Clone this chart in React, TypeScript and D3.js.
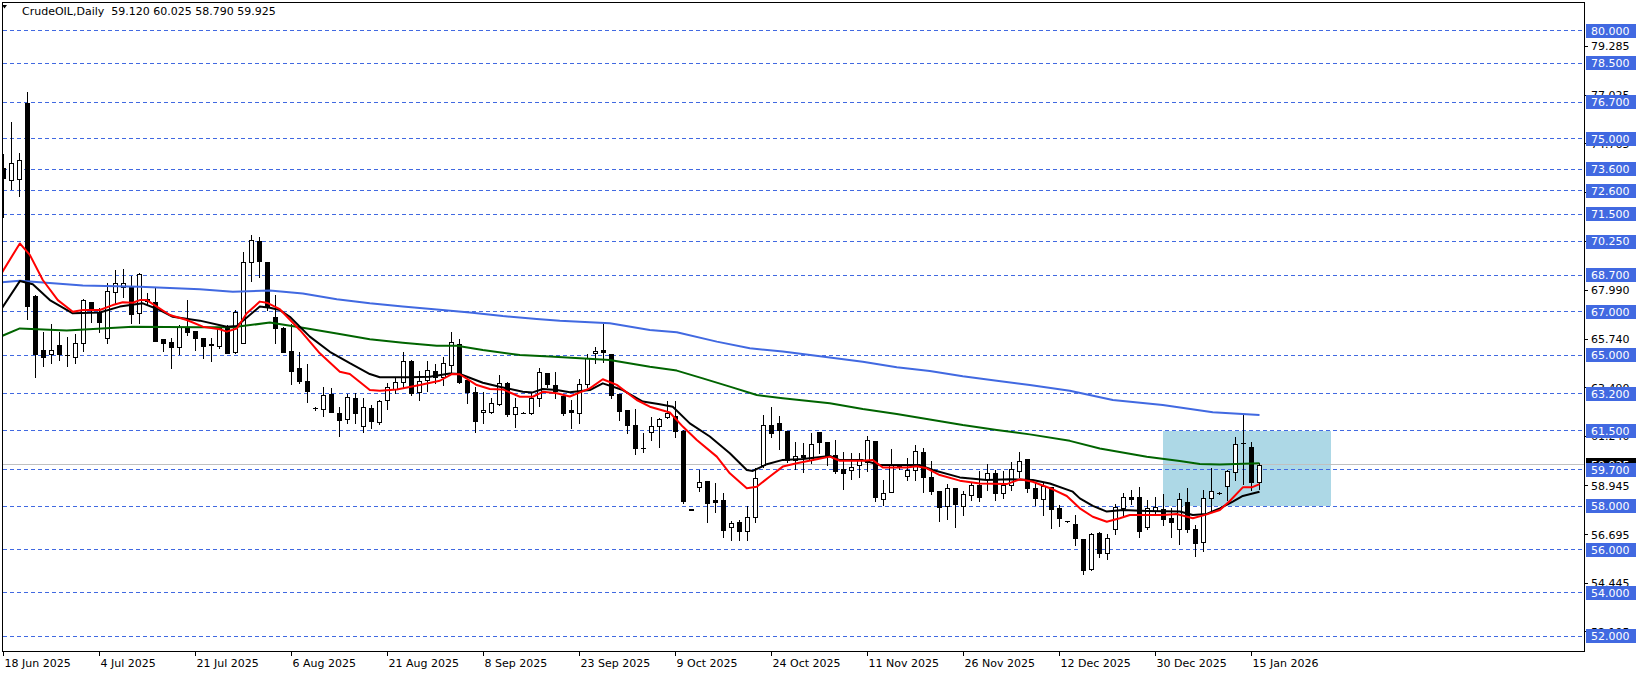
import React from 'react';
import * as d3 from 'd3';

const opens = [73.63,73.09,73.16,76.67,67.73,65.23,65.03,65.46,65.02,64.92,65.54,67.44,66.97,65.77,67.90,68.13,68.16,66.93,67.60,67.47,
65.74,65.59,65.39,66.23,66.11,65.77,65.50,65.43,66.36,65.15,65.54,69.29,70.27,69.29,66.77,66.27,65.19,64.40,63.80,62.55,
62.49,63.20,62.30,62.02,63.00,61.73,62.53,61.92,62.92,63.43,63.77,64.72,63.31,63.84,64.26,64.00,64.54,65.49,63.84,63.27,
62.35,62.38,62.72,63.69,62.27,62.33,62.30,63.00,64.15,63.61,63.11,62.46,62.30,63.65,65.08,65.23,65.03,63.18,62.46,61.77,
60.70,61.43,61.73,62.15,62.20,61.50,57.87,58.91,59.18,58.30,58.30,57.03,57.26,56.88,57.53,59.92,61.77,61.87,61.49,60.15,
60.38,60.15,61.43,61.00,60.37,59.73,59.68,59.91,60.03,61.02,58.32,58.68,59.88,59.40,59.68,60.50,59.34,58.71,58.03,58.83,
58.03,58.52,58.99,59.26,59.53,58.60,58.99,59.63,60.17,58.83,58.32,58.88,57.91,57.32,57.17,56.49,55.10,56.75,55.83,56.94,
57.91,58.42,58.42,57.03,57.79,57.86,57.45,56.94,58.19,56.94,56.34,58.37,58.60,58.96,59.57,60.92,60.76,59.12];
const highs = [74.30,75.76,74.33,77.15,67.78,66.05,66.42,66.08,65.82,65.96,67.59,67.46,67.16,68.35,68.93,68.96,68.65,68.81,67.85,68.16,
65.76,65.77,66.39,67.54,66.12,65.78,65.80,66.23,66.37,67.08,69.75,70.55,70.47,69.30,67.78,66.30,66.42,65.12,64.58,62.60,
63.51,63.46,62.58,63.20,63.23,63.00,62.69,62.92,63.69,63.92,65.12,64.75,64.26,64.72,64.58,64.89,66.05,65.74,63.85,63.51,
63.31,63.00,64.08,63.74,63.00,62.36,63.31,64.38,64.16,64.20,63.11,62.92,63.88,65.03,65.39,66.42,65.04,63.19,62.47,62.51,
61.38,62.15,62.11,62.88,62.88,61.51,57.88,59.68,59.18,59.07,58.61,57.33,57.37,58.04,59.79,62.23,62.58,62.18,61.49,61.00,
60.95,61.41,61.43,61.00,61.07,60.53,60.45,60.45,61.27,61.03,59.22,60.64,59.95,60.25,60.84,60.68,60.10,58.72,59.02,58.84,
58.71,59.14,59.63,59.96,59.68,59.63,60.07,60.53,60.18,59.06,59.06,58.88,58.06,57.34,57.60,56.50,56.78,56.80,56.71,58.11,
58.60,58.76,58.88,58.29,58.45,58.57,57.91,58.60,58.83,57.14,58.76,59.76,58.65,59.68,61.19,62.23,60.96,60.025];
const lows = [71.40,72.68,72.37,66.65,64.00,64.51,64.65,64.77,64.51,64.65,65.20,66.51,66.08,65.54,67.39,67.70,66.47,66.50,67.30,65.65,
65.20,64.38,65.03,65.93,65.23,64.88,64.72,65.34,65.08,65.08,65.54,68.42,68.62,67.08,65.54,65.12,63.64,63.69,62.81,62.45,
62.19,62.35,61.27,61.84,61.84,61.42,61.64,61.81,62.50,63.23,63.54,63.15,62.92,63.35,63.69,63.61,64.20,63.69,62.77,61.46,
61.84,62.33,62.69,62.19,61.69,62.30,62.26,62.66,63.54,63.03,62.23,61.61,61.84,63.54,64.65,64.66,63.00,62.00,61.38,60.41,
60.53,61.07,60.73,62.07,61.23,58.14,57.83,58.71,57.26,57.76,56.60,56.45,56.45,56.45,57.30,59.84,61.23,60.66,60.07,59.73,
59.61,59.99,60.46,59.92,59.53,58.80,59.26,59.37,59.65,58.25,58.06,58.68,59.75,59.22,59.22,58.68,58.55,57.34,57.40,57.06,
57.60,58.29,58.25,58.75,58.29,58.37,58.75,59.34,58.65,58.06,57.60,56.98,57.11,57.30,56.21,54.85,55.05,55.67,55.57,56.72,
57.60,58.09,56.60,56.94,57.60,57.14,56.60,56.26,56.83,55.72,55.95,57.76,58.57,58.29,59.22,59.03,58.76,58.79];
const closes = [73.17,73.87,74.02,67.27,65.03,64.92,65.23,65.03,65.00,65.54,67.54,67.13,66.51,67.96,68.32,68.32,66.88,68.73,67.50,65.65,
65.54,65.39,66.31,66.05,65.77,65.43,65.48,66.23,65.08,66.97,69.29,70.32,69.35,67.27,66.23,65.15,64.28,63.81,63.35,62.53,
63.14,62.38,61.99,63.04,62.30,62.58,61.96,62.87,63.51,63.74,64.74,63.26,63.81,64.31,64.00,64.62,65.62,63.77,63.30,61.96,
62.46,62.77,63.72,62.26,62.58,62.33,63.00,64.20,63.64,63.34,62.34,62.35,63.65,64.85,65.20,65.16,63.15,62.43,61.77,60.69,
60.69,61.72,62.03,62.30,61.50,58.25,57.84,59.11,58.14,58.22,56.91,57.22,56.88,57.53,59.30,61.77,61.41,61.53,60.15,60.35,
60.30,60.87,61.00,60.35,59.63,59.53,59.80,60.14,61.07,58.45,58.60,59.91,59.84,59.68,60.57,59.37,58.72,57.95,58.86,58.09,
58.55,58.99,58.45,59.53,58.60,58.99,59.71,60.11,58.83,58.37,58.94,57.86,57.48,57.31,56.52,55.05,56.72,55.86,56.52,57.96,
58.45,58.34,56.88,57.94,57.96,57.40,57.29,58.33,56.94,56.32,58.37,58.73,58.62,59.65,60.87,60.92,59.14,59.925];

// moving averages: [bar index, price]
const maRed: [number, number][] = [[-0.2,68.81],[2.04,70.16],[3.29,69.63],[4.91,68.47],[6.79,67.54],[8.66,67.00],[9.91,67.08],[12.04,67.08],[13.66,67.31],[14.91,67.44],[16.16,67.42],[17.04,67.54],[17.91,67.54],[19.16,67.24],[20.79,66.85],[22.91,66.62],[24.91,66.31],[27.04,66.19],[27.91,66.08],[29.16,66.23],[30.41,66.93],[32.04,67.47],[32.91,67.42],[34.54,67.12],[37.04,66.16],[39.54,65.08],[42.04,64.23],[43.29,64.12],[45.79,63.38],[47.04,63.35],[49.16,63.41],[52.04,63.61],[54.54,63.81],[56.04,64.12],[57.04,64.11],[59.16,63.61],[60.79,63.43],[62.41,63.41],[64.54,63.07],[66.16,63.07],[67.41,63.30],[69.16,63.23],[70.79,63.08],[73.29,63.46],[74.91,63.88],[76.66,63.62],[79.16,62.92],[80.79,62.61],[83.29,62.34],[84.91,61.69],[86.66,61.07],[89.16,60.30],[90.79,59.53],[92.91,58.84],[94.16,58.91],[95.79,59.38],[97.41,59.84],[99.16,59.99],[101.66,60.18],[103.29,60.30],[104.54,60.11],[107.41,60.11],[108.66,60.14],[109.91,59.80],[112.91,59.80],[114.16,59.86],[115.41,59.76],[117.04,59.45],[119.54,59.19],[122.04,59.06],[125.41,59.03],[127.04,59.25],[128.66,59.14],[131.16,58.79],[132.91,58.48],[134.54,57.91],[136.16,57.52],[137.91,57.29],[139.54,57.45],[140.79,57.60],[142.91,57.60],[144.91,57.60],[146.66,57.65],[148.66,57.45],[150.41,57.63],[152.04,57.83],[153.29,58.25],[154.91,58.88],[156.04,58.88],[157,59.03]];
const maBlack: [number, number][] = [[-0.2,67.16],[2.04,68.42],[3.66,68.27],[5.79,67.54],[8.66,66.93],[12.04,66.97],[14.54,67.24],[17.41,67.39],[19.54,67.08],[21.16,66.77],[24.54,66.59],[27.91,66.31],[29.16,66.34],[32.04,67.24],[33.29,67.19],[34.54,67.08],[35.79,66.77],[38.29,65.85],[40.79,65.15],[43.29,64.62],[45.79,64.12],[47.04,63.97],[50.79,63.97],[53.29,64.00],[55.79,64.15],[57.04,64.12],[59.91,63.72],[62.41,63.50],[64.91,63.30],[66.16,63.27],[67.41,63.43],[69.16,63.38],[70.79,63.28],[73.29,63.38],[74.91,63.69],[77.41,63.38],[79.91,62.85],[82.04,62.72],[83.66,62.61],[85.79,61.84],[88.29,61.23],[90.79,60.46],[92.91,59.68],[93.66,59.64],[95.41,59.95],[97.41,60.15],[99.91,60.19],[103.29,60.33],[104.54,60.14],[107.41,60.14],[109.54,59.91],[114.54,59.91],[116.16,59.68],[119.54,59.34],[122.91,59.22],[125.79,59.25],[128.66,59.22],[130.79,59.06],[133.66,58.68],[134.54,58.37],[136.16,58.02],[137.91,57.76],[139.91,57.83],[142.91,57.79],[147.04,57.76],[148.66,57.60],[150.41,57.65],[152.04,57.91],[153.66,58.22],[154.91,58.48],[157,58.68]];
const maGreen: [number, number][] = [[-0.2,65.88],[2.04,66.23],[7.91,66.13],[16.16,66.31],[24.54,66.28],[28.66,66.28],[33.29,66.50],[37.41,66.26],[41.66,66.00],[45.79,65.73],[49.91,65.57],[54.16,65.43],[56.66,65.43],[59.91,65.23],[64.54,65.00],[68.29,64.93],[75.79,64.77],[80.79,64.46],[84.16,64.28],[87.41,63.92],[90.79,63.54],[94.16,63.15],[97.41,63.00],[103.29,62.77],[107.41,62.50],[111.66,62.27],[115.79,62.02],[119.91,61.76],[124.16,61.53],[128.29,61.33],[133.29,61.03],[137.04,60.68],[142.91,60.30],[147.04,60.10],[149.54,59.96],[152.04,59.94],[157,59.99]];
const maBlue: [number, number][] = [[-0.2,68.36],[2.04,68.44],[9.91,68.21],[17.04,68.16],[24.54,68.04],[28.66,67.93],[33.29,67.98],[37.41,67.85],[41.66,67.58],[45.79,67.39],[49.91,67.24],[54.16,67.11],[58.29,66.97],[62.41,66.80],[66.66,66.67],[69.54,66.59],[75.79,66.47],[80.79,66.16],[84.16,66.05],[89.16,65.62],[93.29,65.31],[97.41,65.16],[103.29,64.88],[107.41,64.69],[111.66,64.43],[115.79,64.26],[119.91,64.02],[124.16,63.81],[128.29,63.61],[133.29,63.35],[138.66,62.92],[144.91,62.69],[151.16,62.35],[157,62.23]];

const levels = [80, 78.5, 76.7, 75, 73.6, 72.6, 71.5, 70.25, 68.7, 67, 65, 63.2, 61.5, 59.7, 58, 56, 54, 52];
const priceTicks = [79.285, 77.025, 74.765, 72.505, 70.245, 67.99, 65.74, 63.49, 61.24, 58.945, 56.695, 54.445, 52.195];
const dateLabels = ["18 Jun 2025", "4 Jul 2025", "21 Jul 2025", "6 Aug 2025", "21 Aug 2025", "8 Sep 2025", "23 Sep 2025", "9 Oct 2025", "24 Oct 2025", "11 Nov 2025", "26 Nov 2025", "12 Dec 2025", "30 Dec 2025", "15 Jan 2026"];
const dateLabelBars = [0, 12, 24, 36, 48, 60, 72, 84, 96, 108, 120, 132, 144, 156];
const bidPrice = 59.925;
const headerText = "CrudeOIL,Daily  59.120 60.025 58.790 59.925";
const zoneBars = [144.9, 165.9];
const zonePrices = [58.0, 61.5];

const FONT = "'DejaVu Sans', sans-serif";

export default function App() {
  const x = d3.scaleLinear().domain([0, 157]).range([3.5, 3.5 + 8 * 157]);
  const y = d3.scaleLinear().domain([52, 80]).range([636.1, 30.7]);
  const hy = (v: number) => Math.floor(y(v)) + 0.5;
  const line = d3.line<[number, number]>().x(d => x(d[0])).y(d => y(d[1]));
  const fmt = d3.format('.3f');

  const left = 2.5, right = 1584.5, top = 2.5, bottom = 651.5;

  const candles = opens.map((o, i) => {
    const c = closes[i];
    const cx = x(i);
    const t = Math.round(y(Math.max(o, c)));
    const b = Math.round(y(Math.min(o, c)));
    const bull = c > o;
    return (
      <g key={i}>
        <line x1={cx} x2={cx} y1={Math.round(y(highs[i]))} y2={Math.round(y(lows[i])) + 1} stroke="#000" strokeWidth={1} />
        {b - t < 1 ? (
          <line x1={cx - 2.5} x2={cx + 2.5} y1={t + 0.5} y2={t + 0.5} stroke="#000" strokeWidth={1} />
        ) : (
          <rect x={cx - 2} y={t + 0.5} width={4} height={b - t} fill={bull ? '#fff' : '#000'} stroke="#000" strokeWidth={1} />
        )}
      </g>
    );
  });

  return (
    <svg width={1641} height={675} style={{ position: 'absolute', left: 0, top: 0, background: '#fff' }} shapeRendering="crispEdges">
      <defs>
        <clipPath id="plot"><rect x={2} y={2} width={1582} height={649} /></clipPath>
      </defs>
      <rect x={0} y={0} width={1641} height={675} fill="#fff" />
      <g clipPath="url(#plot)">
        <rect x={x(zoneBars[0])} y={y(zonePrices[1])} width={x(zoneBars[1]) - x(zoneBars[0])} height={y(zonePrices[0]) - y(zonePrices[1])} fill="#ADD8E6" />
        {levels.map(l => (
          <line key={l} x1={left} x2={right} y1={hy(l)} y2={hy(l)} stroke="#4169E1" strokeWidth={1} strokeDasharray="4,3" />
        ))}
        <line x1={left} x2={right} y1={hy(bidPrice)} y2={hy(bidPrice)} stroke="#C0C0C0" strokeWidth={1} />
        {candles}
        <g fill="none" strokeWidth={2} shapeRendering="auto" strokeLinejoin="round">
          <path d={line(maBlue) || ''} stroke="#4169E1" />
          <path d={line(maGreen) || ''} stroke="#006400" />
          <path d={line(maBlack) || ''} stroke="#000" />
          <path d={line(maRed) || ''} stroke="#FF0000" />
        </g>
      </g>
      {/* frame */}
      <path d={`M${left},${top}H${right}V${bottom}H${left}Z`} fill="none" stroke="#000" strokeWidth={1} />
      {/* header */}
      <polygon points="2,5 7,5 4.5,8.5" fill="#000" shapeRendering="auto" />
      <text x={22} y={15} fontFamily={FONT} fontSize={11} fill="#000" style={{ whiteSpace: 'pre' }}>{headerText}</text>
      {/* price ticks */}
      {priceTicks.map(p => (
        <g key={p}>
          <line x1={1584} x2={1588} y1={hy(p)} y2={hy(p)} stroke="#000" />
          <text x={1591} y={y(p)} dy="0.36em" fontFamily={FONT} fontSize={11} fill="#000">{fmt(p)}</text>
        </g>
      ))}
      {/* bid label */}
      <rect x={1586} y={Math.round(y(bidPrice)) - 7} width={50} height={13} fill="#000" />
      <text x={1591} y={y(bidPrice)} dy="0.36em" fontFamily={FONT} fontSize={11} fill="#fff">{fmt(bidPrice)}</text>
      {/* level labels */}
      {levels.map(l => (
        <g key={l}>
          <rect x={1586} y={Math.round(y(l)) - 7} width={50} height={14} fill="#4169E1" />
          <text x={1591} y={y(l)} dy="0.36em" fontFamily={FONT} fontSize={11} fill="#fff">{fmt(l)}</text>
        </g>
      ))}
      {/* time axis */}
      {dateLabelBars.map((b, k) => (
        <g key={b}>
          <line x1={x(b)} x2={x(b)} y1={651} y2={656} stroke="#000" />
          <text x={x(b) + 1} y={667} fontFamily={FONT} fontSize={11} fill="#000">{dateLabels[k]}</text>
        </g>
      ))}
    </svg>
  );
}
